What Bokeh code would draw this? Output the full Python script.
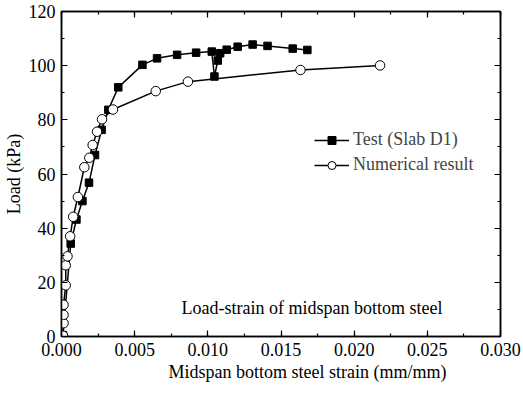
from bokeh.plotting import figure
from bokeh.models import (Range1d, LinearAxis, SingleIntervalTicker, NumeralTickFormatter,
                          CustomJSTickFormatter, Legend, LegendItem, Label, Title)
from bokeh.embed import file_html
from bokeh.resources import INLINE

# Data
test_strain = [0.0001, 0.00063, 0.00102, 0.00143, 0.00188, 0.00229, 0.00274, 0.0032, 0.00388,
               0.00553, 0.00653, 0.0079, 0.0092, 0.01027, 0.01045, 0.01068, 0.01084, 0.01129,
               0.01204, 0.01306, 0.01408, 0.0158, 0.0168]
test_load = [0.5, 34.3, 43.2, 50.0, 56.8, 67.0, 76.3, 83.7, 92.0,
             100.3, 102.7, 104.0, 104.8, 105.2, 96.0, 101.9, 104.6, 105.9,
             107.0, 107.8, 107.3, 106.3, 105.8]

num_strain = [0.0001, 0.00014, 0.00014, 0.00014, 0.00029, 0.00029, 0.00041, 0.00059, 0.0008,
              0.00112, 0.00156, 0.0019, 0.00213, 0.00243, 0.00277, 0.00352, 0.00644, 0.00864,
              0.01633, 0.02177]
num_load = [0.3, 4.9, 8.0, 11.7, 18.9, 26.3, 29.6, 37.0, 44.2,
            51.5, 62.5, 66.0, 70.7, 75.6, 80.2, 83.8, 90.6, 94.1,
            98.4, 100.1]

series_names = ["Test (Slab D1)", "Numerical result"]
x_title = "Midspan bottom steel strain (mm/mm)"
y_title = "Load (kPa)"
note = "Load-strain of midspan bottom steel"

FONT = "Liberation Serif"
FS = "18px"

p = figure(width=523, height=394, output_backend="svg", toolbar_location=None,
           x_range=Range1d(0, 0.030), y_range=Range1d(0, 120),
           min_border_left=59, min_border_right=23, min_border_top=11, min_border_bottom=58,
           x_axis_type=None, y_axis_type=None)
p.grid.visible = False
p.outline_line_color = "black"
p.outline_line_width = 1.5
p.background_fill_color = "white"
p.border_fill_color = "white"

xt = SingleIntervalTicker(interval=0.005, num_minor_ticks=2)
yt = SingleIntervalTicker(interval=20, num_minor_ticks=2)


def style(ax):
    ax.axis_line_color = "black"
    ax.axis_line_width = 1.5
    ax.major_tick_in = 6
    ax.major_tick_out = 0
    ax.minor_tick_in = 3
    ax.minor_tick_out = 0
    ax.major_tick_line_width = 1.2
    ax.minor_tick_line_width = 1.2
    ax.major_label_text_font = FONT
    ax.major_label_text_font_size = FS
    ax.major_label_text_color = "black"
    ax.axis_label_text_font = FONT
    ax.axis_label_text_font_size = FS
    ax.axis_label_text_font_style = "normal"
    ax.axis_label_text_color = "black"


xb = LinearAxis(ticker=xt, formatter=NumeralTickFormatter(format="0.000"))
style(xb)
xb.major_label_standoff = 6
p.add_layout(xb, "below")

# x-axis title, placed slightly right of the frame centre as in the reference
p.add_layout(Title(text=x_title, align="left", offset=107, standoff=2,
                   text_font=FONT, text_font_size=FS, text_font_style="normal",
                   text_color="black"), "below")

yl = LinearAxis(ticker=yt, axis_label=y_title)
style(yl)
yl.major_label_standoff = 6
yl.axis_label_standoff = 2
p.add_layout(yl, "left")

blank = CustomJSTickFormatter(code="return ''")
xtop = LinearAxis(ticker=xt, formatter=blank)
style(xtop)
xtop.major_label_standoff = 0
p.add_layout(xtop, "above")

yr = LinearAxis(ticker=yt, formatter=blank)
style(yr)
yr.major_label_standoff = 0
p.add_layout(yr, "right")

l1 = p.line(test_strain, test_load, line_color="black", line_width=1.5)
s1 = p.scatter(test_strain, test_load, marker="square", size=7.5, fill_color="black",
               line_color="black")
l2 = p.line(num_strain, num_load, line_color="black", line_width=1.5)
s2 = p.scatter(num_strain, num_load, marker="circle", size=9.5, fill_color="white",
               line_color="black", line_width=1)

legend = Legend(items=[LegendItem(label=series_names[0], renderers=[l1, s1]),
                       LegendItem(label=series_names[1], renderers=[l2, s2])],
                location=(253, 161), padding=0, margin=0, spacing=4,
                glyph_width=35, glyph_height=20, label_standoff=4,
                label_text_font=FONT, label_text_font_size=FS,
                border_line_color=None, background_fill_alpha=0)
p.add_layout(legend)

p.add_layout(Label(x=0.0082, y=10.5, text=note, text_font=FONT, text_font_size=FS,
                   text_baseline="middle", text_align="left", text_color="black"))

open("out.html", "w").write(file_html(p, INLINE))
